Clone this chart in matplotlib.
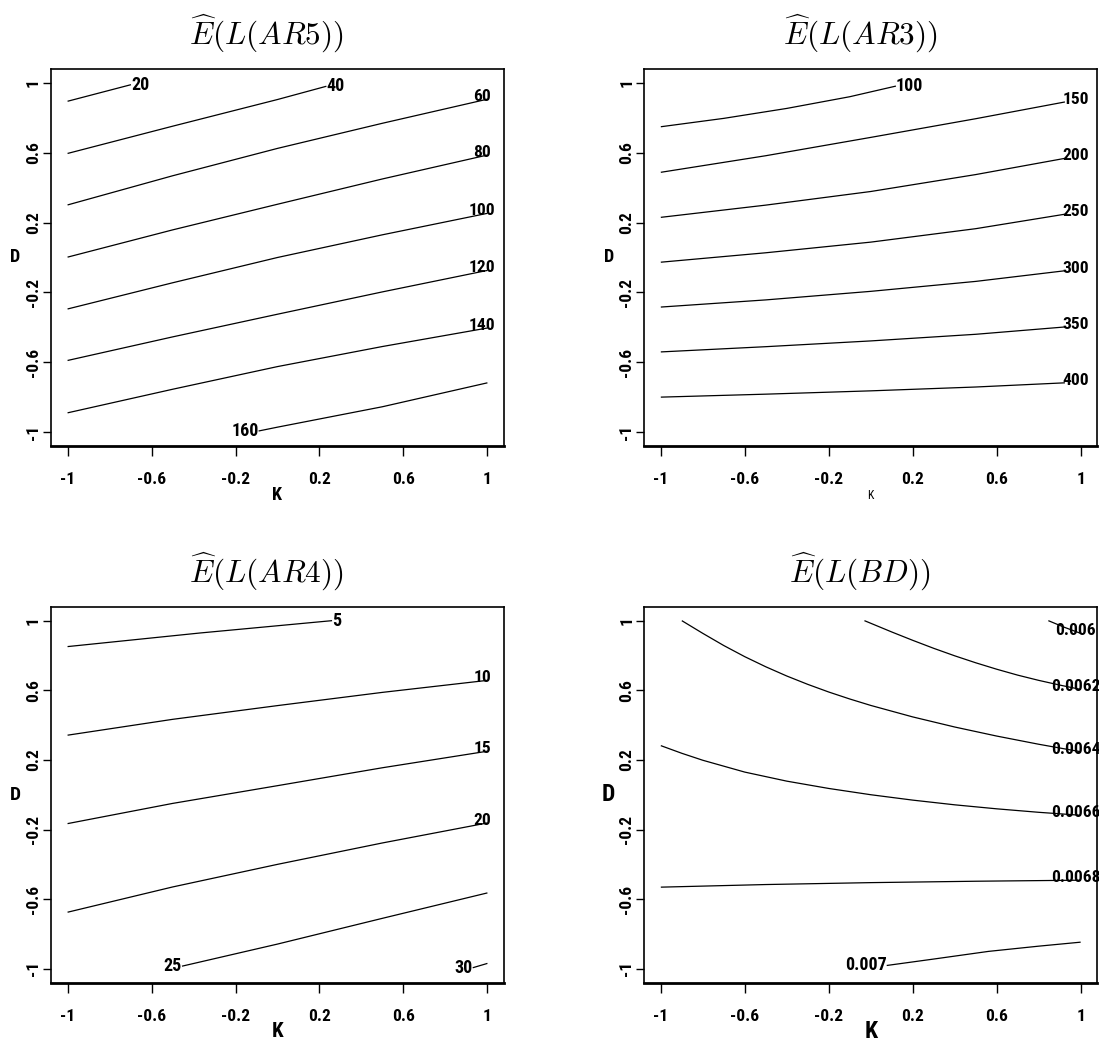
import matplotlib
matplotlib.use("Agg")
import matplotlib.pyplot as plt
from matplotlib import font_manager

plt.rcParams["mathtext.fontset"] = "cm"

# R's bold labels are narrow; take a condensed face when one is installed
names = {f.name for f in font_manager.fontManager.ttflist}
narrow = [n for n in ["Liberation Sans Narrow", "DejaVu Sans Condensed", "Roboto Condensed"]
          if n in names]
sans = narrow + ["Liberation Sans", "DejaVu Sans"]
fs = 12.5 if narrow else 11

# tick positions shared by every panel
k_ticks = [-1, -0.6, -0.2, 0.2, 0.6, 1]
d_ticks = [-1, -0.6, -0.2, 0.2, 0.6, 1]
tick_text = ["-1", "-0.6", "-0.2", "0.2", "0.6", "1"]

# contour lines: one K list and one D list per level
ar5_levels = ["20", "40", "60", "80", "100", "120", "140", "160"]
ar5_k = [[-1, -0.698], [-1, -0.5, 0, 0.233], [-1, -0.5, 0, 0.5, 1], [-1, -0.5, 0, 0.5, 1],
         [-1, -0.5, 0, 0.5, 1], [-1, -0.5, 0, 0.5, 1], [-1, -0.5, 0, 0.5, 1],
         [-0.09, 0, 0.5, 1]]
ar5_d = [[0.895, 0.99], [0.596, 0.752, 0.905, 0.981],
         [0.301, 0.468, 0.625, 0.769, 0.907], [0.002, 0.158, 0.305, 0.450, 0.587],
         [-0.295, -0.145, 0.0, 0.130, 0.253], [-0.590, -0.455, -0.325, -0.197, -0.074],
         [-0.890, -0.755, -0.625, -0.510, -0.404], [-0.994, -0.972, -0.855, -0.718]]

ar3_levels = ["100", "150", "200", "250", "300", "350", "400"]
ar3_k = [[-1, -0.7, -0.4, -0.1, 0.12]] + [[-1, -0.5, 0, 0.5, 0.925]] * 6
ar3_d = [[0.749, 0.797, 0.854, 0.921, 0.982], [0.488, 0.583, 0.688, 0.795, 0.891],
         [0.230, 0.300, 0.378, 0.475, 0.568], [-0.027, 0.027, 0.088, 0.165, 0.248],
         [-0.284, -0.243, -0.194, -0.137, -0.076], [-0.541, -0.511, -0.478, -0.440, -0.398],
         [-0.800, -0.783, -0.764, -0.742, -0.718]]

ar4_levels = ["5", "10", "15", "20", "25", "30"]
ar4_k = [[-1, -0.37, 0.26], [-1, -0.5, 0, 0.5, 1], [-1, -0.5, 0, 0.5, 1],
         [-1, -0.5, 0, 0.5, 1], [-0.455, 0, 0.5, 1], [0.93, 1]]
ar4_d = [[0.851, 0.929, 1.0], [0.342, 0.433, 0.512, 0.588, 0.657],
         [-0.166, -0.050, 0.052, 0.155, 0.250], [-0.675, -0.530, -0.400, -0.277, -0.162],
         [-0.985, -0.858, -0.710, -0.564], [-0.994, -0.969]]

bd_levels = ["0.006", "0.0062", "0.0064", "0.0066", "0.0068", "0.007"]
bd_k = [[0.846, 0.92, 1],
        [-0.03, 0.1, 0.2, 0.3, 0.4, 0.5, 0.6, 0.7, 0.8, 0.9, 1.0],
        [-0.9, -0.8, -0.7, -0.6, -0.5, -0.4, -0.3, -0.2, -0.1, 0, 0.2, 0.4, 0.6, 0.8, 1.0],
        [-1, -0.9, -0.8, -0.6, -0.4, -0.2, 0, 0.2, 0.4, 0.6, 0.8, 1.0],
        [-1, -0.5, 0, 0.5, 1],
        [0.076, 0.3, 0.561, 0.8, 1]]
bd_d = [[1.0, 0.963, 0.927],
        [1.0, 0.935, 0.887, 0.841, 0.798, 0.758, 0.721, 0.687, 0.657, 0.630, 0.605],
        [1.0, 0.927, 0.857, 0.793, 0.735, 0.682, 0.634, 0.590, 0.550, 0.513, 0.447, 0.389,
         0.337, 0.290, 0.247],
        [0.282, 0.238, 0.198, 0.130, 0.078, 0.036, 0.0, -0.031, -0.058, -0.081, -0.101, -0.118],
        [-0.531, -0.516, -0.505, -0.497, -0.491],
        [-0.981, -0.944, -0.900, -0.870, -0.847]]

panels = [
    (r"$\widehat{E}(L(AR5))$", ar5_levels, ar5_k, ar5_d),
    (r"$\widehat{E}(L(AR3))$", ar3_levels, ar3_k, ar3_d),
    (r"$\widehat{E}(L(AR4))$", ar4_levels, ar4_k, ar4_d),
    (r"$\widehat{E}(L(BD))$", bd_levels, bd_k, bd_d),
]

boxes = [[0.0462, 0.5732, 0.4126, 0.3608], [0.586, 0.5732, 0.4126, 0.3608],
         [0.0462, 0.0596, 0.4126, 0.3598], [0.586, 0.0596, 0.4126, 0.3598]]
# x-label style per panel (the top right one is small and plain in the original)
k_style = [(13, "bold"), (8.5, "normal"), (15, "bold"), (17, "bold")]
d_size = [13, 13, 14, 17]

fig = plt.figure(figsize=(10.99, 10.45), dpi=100)

for i, (title, levels, ks, ds) in enumerate(panels):
    ax = fig.add_axes(boxes[i])
    for lab, k, d in zip(levels, ks, ds):
        ax.plot(k, d, color="black", lw=0.9, solid_capstyle="butt")
        # label sits on the end that touches the top/right, or at the start on the bottom edge
        if d[0] < -0.95:
            ax.text(k[0], d[0], lab, ha="right", va="center", fontsize=fs + 0.5,
                    fontweight="bold", family=sans, clip_on=False)
        elif d[-1] > 0.97:
            ax.text(k[-1], d[-1], lab, ha="left", va="center", fontsize=fs + 0.5,
                    fontweight="bold", family=sans, clip_on=False)
        else:
            # right-edge labels are centred just inside the K = 1 tick
            ax.text(0.975, d[-1] + 0.015, lab, ha="center", va="center", fontsize=fs,
                    fontweight="bold", family=sans, clip_on=False)

    ax.set_xlim(-1.08, 1.08)
    ax.set_ylim(-1.08, 1.08)
    ax.set_xticks(k_ticks)
    ax.set_xticklabels(tick_text, fontsize=fs, fontweight="bold", family=sans)
    ax.set_yticks(d_ticks)
    ax.set_yticklabels(tick_text, fontsize=fs, fontweight="bold", family=sans,
                       rotation=90, va="center")
    ax.tick_params(axis="x", direction="out", length=7, width=1, pad=12)
    ax.tick_params(axis="y", direction="out", length=6, width=1, pad=1)
    for side in ["top", "left", "right"]:
        ax.spines[side].set_linewidth(1.2)
    ax.spines["bottom"].set_linewidth(2)

    ax.text(0.476, 1.095, title, transform=ax.transAxes, ha="center", va="center",
            fontsize=22.5)
    ax.text(-0.078, 0.5, "D", transform=ax.transAxes, ha="center", va="center",
            fontsize=d_size[i], fontweight="bold", family=sans)
    ax.text(0.5, -0.13, "K", transform=ax.transAxes, ha="center", va="center",
            fontsize=k_style[i][0], fontweight=k_style[i][1], family=sans)

fig.savefig("out.png", dpi=100)
